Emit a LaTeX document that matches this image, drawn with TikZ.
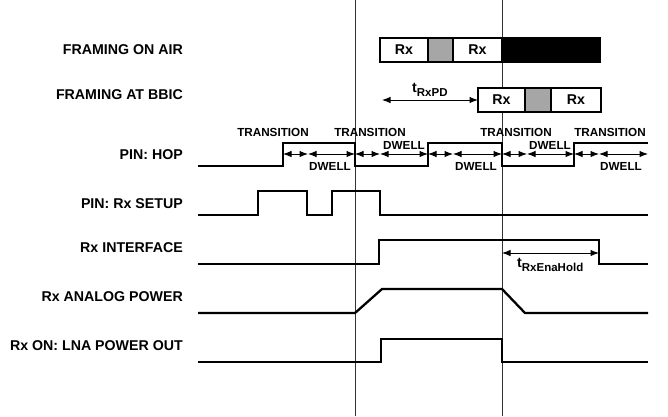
\documentclass[tikz,border=0pt]{standalone}
\usepackage{fontspec}
\setmainfont{Liberation Sans}
\usetikzlibrary{arrows.meta,positioning,calc}
\definecolor{slotgray}{HTML}{A6A6A6}
\definecolor{guidegray}{HTML}{333333}
\tikzset{
  rowlabel/.style={font=\bfseries\fontsize{14.2}{16}\selectfont,anchor=east,inner sep=0pt},
  tinylabel/.style={font=\bfseries\fontsize{11.7}{13}\selectfont,inner sep=0pt},
  sublabel/.style={font=\bfseries\fontsize{14.2}{16}\selectfont,inner sep=0pt,anchor=base west},
  slot/.style={draw,line width=1.8pt,fill=white,minimum height=24pt,inner sep=0pt,outer sep=0pt,font=\bfseries\fontsize{14.2}{16}\selectfont},
  wave/.style={line width=2.3pt,line join=miter},
  guide/.style={draw=guidegray,line width=1pt},
  dimarr/.style={{Latex[length=8.5pt,width=6.5pt]}-{Latex[length=8.5pt,width=6.5pt]},line width=1pt}
}
\newcommand{\tsub}[1]{t\raisebox{-4pt}{\fontsize{11.5}{12}\selectfont #1}}

\begin{document}
\begin{tikzpicture}[x=1pt,y=-1pt]
\path[use as bounding box] (0,0) rectangle (668,416);
% guide lines
\draw[guide] (355,0) -- (355,416);
\draw[guide] (502,0) -- (502,416);

% row labels
\node[rowlabel] (lair) at (183,50) {FRAMING ON AIR};
\node[rowlabel] (lbbic) at (183,95) {FRAMING AT BBIC};
\node[rowlabel] (lhop) at (183,155) {PIN: HOP};
\node[rowlabel] (lsetup) at (183,204) {PIN: Rx SETUP};
\node[rowlabel] (lif) at (183,248) {Rx INTERFACE};
\node[rowlabel] (lpow) at (183,297) {Rx ANALOG POWER};
\node[rowlabel] (llna) at (183,346) {Rx ON: LNA POWER OUT};

% framing
\node[slot,minimum width=48pt,anchor=west] (air1) at (380,50) {Rx};
\node[slot,minimum width=25pt,fill=slotgray,right=0pt of air1] (air2) {};
\node[slot,minimum width=49pt,right=0pt of air2] (air3) {Rx};
\node[slot,minimum width=98pt,fill=black,right=0pt of air3] (air4) {};
\node[slot,minimum width=47pt,anchor=west] (bbic1) at (478,100) {Rx};
\node[slot,minimum width=26pt,fill=slotgray,right=0pt of bbic1] (bbic2) {};
\node[slot,minimum width=50pt,right=0pt of bbic2] (bbic3) {Rx};
\coordinate (pd) at (382,100);
\draw[dimarr] (pd) -- (bbic1.west);
\node[sublabel] (tpd) at (412,92) {\tsub{RxPD}};

% hop
\draw[wave] (198,166) -- (283,166) -- (283,143) -- (355,143) -- (355,166) -- (428,166) -- (428,143)
  -- (502,143) -- (502,166) -- (574,166) -- (574,143) -- (648,143);
\foreach \e [count=\i] in {283,355,428,502,574,648} \coordinate (e\i) at (\e,154);
\foreach \i [evaluate=\i as \j using int(\i+1)] in {1,...,5} {
  \coordinate (t\i) at ($(e\i)+(25,0)$);
  \draw[dimarr] (e\i) -- (t\i);
  \draw[dimarr] (t\i) -- (e\j);
}
\foreach \x [count=\i] in {273,370,516,610} \node[tinylabel] (tr\i) at (\x,132) {TRANSITION};
\node[tinylabel] (dw1) at (330,166) {DWELL};
\node[tinylabel] (dw2) at (404,145) {DWELL};
\node[tinylabel] (dw3) at (476,166) {DWELL};
\node[tinylabel] (dw4) at (550,145) {DWELL};
\node[tinylabel] (dw5) at (621,166) {DWELL};

% rx setup
\draw[wave] (198,215) -- (258,215) -- (258,191) -- (307,191) -- (307,215) -- (332,215) -- (332,191)
  -- (380,191) -- (380,215) -- (648,215);
% rx interface
\draw[wave] (198,264) -- (379,264) -- (379,240) -- (599,240) -- (599,264) -- (648,264);
\coordinate (hold1) at (502,253); \coordinate (hold2) at (599,253);
\draw[dimarr] (hold1) -- (hold2);
\node[sublabel] (thold) at (517,267) {\tsub{RxEnaHold}};
% analog power
\draw[wave] (198,313) -- (355,313) -- (382,289) -- (502,289) -- (525,313) -- (648,313);
% lna
\draw[wave] (198,362) -- (381,362) -- (381,339) -- (502,339) -- (502,362) -- (648,362);
\end{tikzpicture}
\end{document}
